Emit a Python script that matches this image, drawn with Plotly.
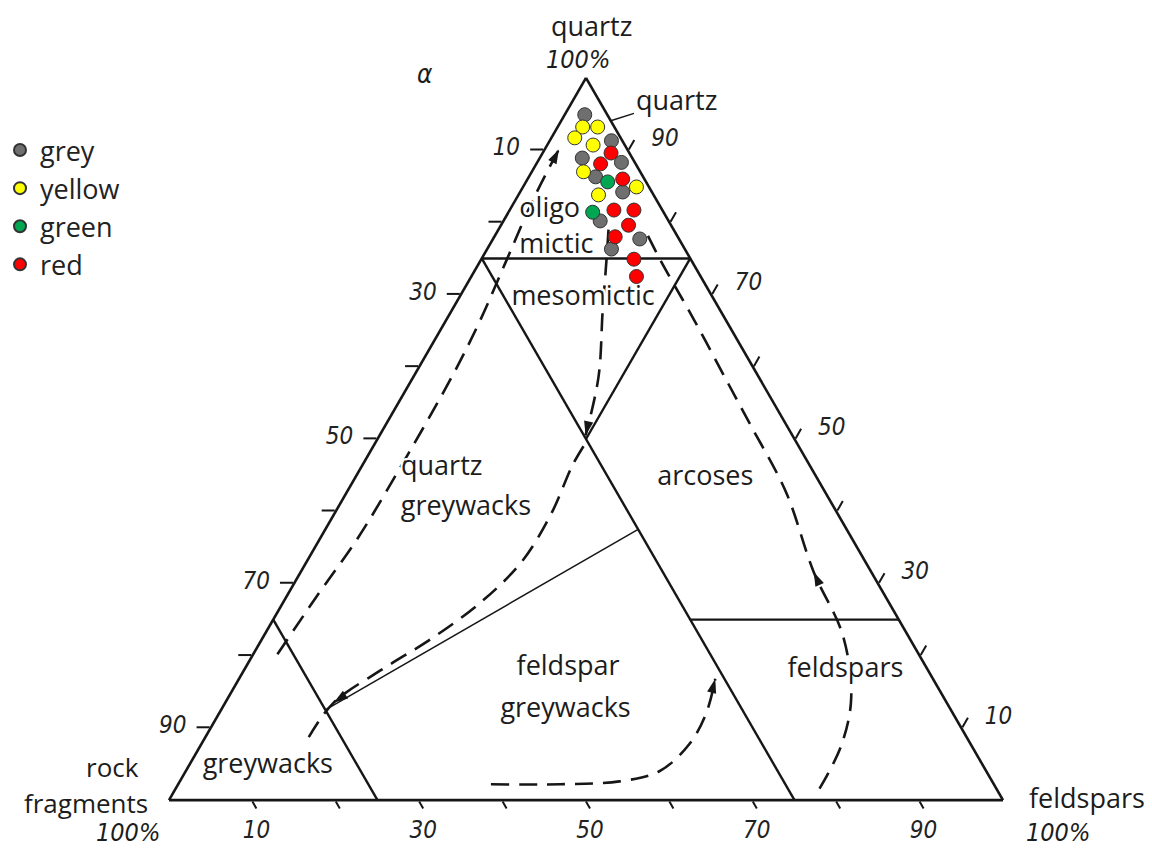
import math
import plotly.graph_objects as go

# ---- sample compositions, % (quartz, rock fragments, feldspars) ----
grey_q = [94.9, 91.3, 88.9, 88.3, 86.3, 84.2, 80.2, 77.7, 76.3]
grey_r = [2.7, 1.3, 6.0, 1.6, 5.7, 3.5, 8.2, 4.7, 8.8]
grey_f = [2.4, 7.4, 5.1, 10.1, 8.0, 12.3, 11.6, 17.6, 14.9]

yellow_q = [93.2, 93.2, 91.7, 90.7, 87.0, 84.9, 83.8]
yellow_r = [3.8, 2.0, 5.5, 3.8, 6.8, 1.5, 6.6]
yellow_f = [3.0, 4.8, 2.8, 5.5, 6.2, 13.6, 9.6]

green_q = [85.6, 81.4]
green_r = [4.6, 8.5]
green_f = [9.8, 10.1]

red_q = [89.6, 88.1, 86.0, 81.7, 81.7, 79.6, 78.0, 74.9, 72.5]
red_r = [2.2, 4.2, 2.6, 5.8, 3.4, 5.1, 7.5, 6.8, 7.7]
red_f = [8.2, 7.7, 11.4, 12.5, 14.9, 15.3, 14.5, 18.3, 19.8]

# ---- classification boundaries (q, r, f end points) ----
bound_q75 = ([75, 75], [25, 0], [0, 25])
bound_r25 = ([75, 0], [25, 25], [0, 75])
bound_f25 = ([75, 50], [0, 25], [25, 25])
bound_r75 = ([25, 0], [75, 75], [0, 25])
bound_q25 = ([25, 25], [25, 0], [50, 75])
bound_qf = ([12.5, 37.5], [75, 25], [12.5, 37.5])

# ---- evolution paths (dashed); the arrow sits on the point given by *_tip ----
path_a_q = [20.2, 28.2, 36.3, 45.1, 58.8, 66.4, 74.7, 83.0, 90.1]
path_a_r = [76.9, 68.2, 59.2, 50.2, 36.6, 29.5, 22.2, 14.9, 8.2]
path_a_f = [2.9, 3.6, 4.5, 4.7, 4.6, 4.1, 3.1, 2.1, 1.7]
path_a_tip = 8

path_b_q = [49.0, 46.3, 39.7, 33.1, 27.6, 22.5, 18.2, 13.5, 8.7]
path_b_r = [25.8, 28.5, 34.3, 41.1, 48.6, 57.1, 65.2, 73.5, 78.9]
path_b_f = [25.2, 25.2, 26.0, 25.8, 23.8, 20.4, 16.6, 13.0, 12.4]
path_b_tip = 7

path_c_q = [79.0, 74.7, 67.8, 58.6, 50.5]
path_c_r = [7.8, 10.2, 14.1, 19.2, 24.8]
path_c_f = [13.2, 15.1, 18.1, 22.2, 24.7]
path_c_tip = 4

path_d_q = [1.6, 7.7, 14.2, 22.8, 31.6, 42.6, 52.0, 57.9, 66.4, 74.6, 78.3]
path_d_r = [21.2, 15.5, 11.1, 7.8, 6.9, 4.7, 4.3, 4.1, 3.8, 3.7, 3.5]
path_d_f = [77.2, 76.8, 74.7, 69.4, 61.5, 52.7, 43.7, 38.0, 29.8, 21.7, 18.2]
path_d_tip = 4

path_e_q = [2.2, 2.2, 2.6, 4.0, 7.7, 12.0, 16.8]
path_e_r = [60.3, 52.0, 44.7, 39.2, 33.8, 29.6, 26.1]
path_e_f = [37.5, 45.8, 52.7, 56.8, 58.5, 58.4, 57.1]
path_e_tip = 6

# ---- field names ----
field_names = ["oligo", "mictic", "mesomictic", "quartz", "greywacks", "arcoses",
               "feldspar", "greywacks", "feldspars", "greywacks"]
field_q = [81.7, 76.7, 69.5, 46.0, 40.4, 44.6, 18.3, 12.5, 18.0, 4.7]
field_r = [13.5, 15.2, 15.6, 44.3, 44.2, 13.4, 43.0, 46.2, 9.9, 85.8]
field_f = [4.8, 8.1, 14.9, 9.7, 15.4, 42.0, 38.7, 41.3, 72.1, 9.5]

# ---- scale: ticks every 10 %, every other one labelled ----
tick_values = [10, 20, 30, 40, 50, 60, 70, 80, 90]
tick_labels = [10, 30, 50, 70, 90]

INK = "#161616"
SANS = "Open Sans"
NUM_FONT = dict(family="DejaVu Sans Condensed", size=24, color="#222", style="italic")
MASK = "2px 2px 0 #fff, -2px -2px 0 #fff, 2px -2px 0 #fff, -2px 2px 0 #fff"
NBSP = "\u00a0"

W, H = 1152, 850


def screen(q, r, f):
    s = q + r + f
    return (f + q / 2) / s, (q * math.sqrt(3) / 2) / s


def heading(p_from, p_to):
    x0, y0 = screen(*p_from)
    x1, y1 = screen(*p_to)
    return math.degrees(math.atan2(x1 - x0, y1 - y0))


fig = go.Figure()

# boundaries
for seg, width in [(bound_q75, 2.4), (bound_r25, 2.4), (bound_f25, 2.4),
                   (bound_r75, 2.4), (bound_q25, 2.4), (bound_qf, 1.5)]:
    fig.add_trace(go.Scatterternary(
        a=seg[0], b=seg[1], c=seg[2], mode="lines",
        line=dict(color=INK, width=width), showlegend=False, hoverinfo="skip"))

# dashed paths with arrow heads
paths = [
    (path_a_q, path_a_r, path_a_f, path_a_tip),
    (path_b_q, path_b_r, path_b_f, path_b_tip),
    (path_c_q, path_c_r, path_c_f, path_c_tip),
    (path_d_q, path_d_r, path_d_f, path_d_tip),
    (path_e_q, path_e_r, path_e_f, path_e_tip),
]
tip_q, tip_r, tip_f, tip_ang = [], [], [], []
for pq, pr, pf, tip in paths:
    fig.add_trace(go.Scatterternary(
        a=pq, b=pr, c=pf, mode="lines",
        line=dict(color=INK, width=2.6, dash="18px,10px", shape="spline"),
        showlegend=False, hoverinfo="skip"))
    tip_q.append(pq[tip])
    tip_r.append(pr[tip])
    tip_f.append(pf[tip])
    tip_ang.append(heading((pq[tip - 1], pr[tip - 1], pf[tip - 1]),
                           (pq[tip], pr[tip], pf[tip])))

fig.add_trace(go.Scatterternary(
    a=tip_q, b=tip_r, c=tip_f, mode="markers",
    marker=dict(symbol="arrow", size=15, angle=tip_ang, color=INK,
                line=dict(width=0)),
    showlegend=False, hoverinfo="skip"))

# field names
fig.add_trace(go.Scatterternary(
    a=field_q, b=field_r, c=field_f, mode="text", text=field_names,
    textposition="middle center",
    textfont=dict(family=SANS, size=27, color="#1c1c1c", shadow=MASK),
    cliponaxis=False, showlegend=False, hoverinfo="skip"))

# samples
for name, q, r, f, col in [
    ("grey", grey_q, grey_r, grey_f, "#6f6f6f"),
    ("yellow", yellow_q, yellow_r, yellow_f, "#ffff00"),
    ("green", green_q, green_r, green_f, "#00a651"),
    ("red", red_q, red_r, red_f, "#ff0000"),
]:
    fig.add_trace(go.Scatterternary(
        a=q, b=r, c=f, mode="markers", name=name,
        marker=dict(size=14, color=col, line=dict(color="#333", width=1)),
        cliponaxis=False))


def ternary_axis(ticklen, pad_left="", pad_right=""):
    # each side is read as the component that grows away from its vertex,
    # i.e. 100 minus this axis' own value
    text = []
    for v in tick_values:
        shown = 100 - v
        text.append(pad_left + str(shown) + pad_right if shown in tick_labels else "")
    return dict(
        tickmode="array", tickvals=tick_values, ticktext=text,
        ticks="outside", ticklen=ticklen, tickwidth=1.6, tickcolor=INK,
        showticklabels=True, tickfont=NUM_FONT,
        showgrid=False, showline=True, linewidth=2.6, linecolor=INK,
        min=0, title=dict(text=""))


annotations = []


def note(text, px, py, size=27, xanchor="center", italic=False, family=SANS):
    annotations.append(dict(
        text=text, x=px / W, y=1 - py / H, xref="paper", yref="paper",
        xanchor=xanchor, yanchor="middle", showarrow=False,
        font=dict(family=family, size=size, color="#1c1c1c",
                  style="italic" if italic else "normal")))


note("quartz", 591, 25)
note("100%", 578, 60, size=25, italic=True, family="DejaVu Sans Condensed")
note("α", 425, 74, size=26, italic=True, family="DejaVu Sans Condensed")
note("rock", 141, 767, size=26, xanchor="right")
note("fragments", 150, 803, size=26, xanchor="right")
note("100%", 128, 832, size=25, italic=True, family="DejaVu Sans Condensed")
note("feldspars", 1087, 797)
note("100%", 1058, 832, size=25, italic=True, family="DejaVu Sans Condensed")

# apex label with its leader to the quartz corner
annotations.append(dict(
    text="quartz", x=610 / W, y=1 - 121 / H, xref="paper", yref="paper",
    showarrow=True, arrowhead=0, arrowwidth=1.5, arrowcolor=INK,
    ax=66, ay=-21, standoff=0,
    font=dict(family=SANS, size=27, color="#1c1c1c")))

fig.update_layout(
    width=W, height=H,
    margin=dict(l=0, r=0, t=0, b=0),
    paper_bgcolor="white",
    ternary=dict(
        sum=100,
        domain=dict(x=[169 / W, 1003 / W], y=[0.055, 0.912]),
        bgcolor="white",
        aaxis=ternary_axis(13, pad_right=NBSP),
        baxis=ternary_axis(8),
        caxis=ternary_axis(11, pad_left=NBSP * 2)),
    legend=dict(x=0.0, y=1 - 126 / H, xanchor="left", yanchor="top",
                font=dict(family=SANS, size=27, color="#222"),
                itemsizing="constant", bgcolor="rgba(0,0,0,0)"),
    annotations=annotations,
)

fig.write_html("out.html")
